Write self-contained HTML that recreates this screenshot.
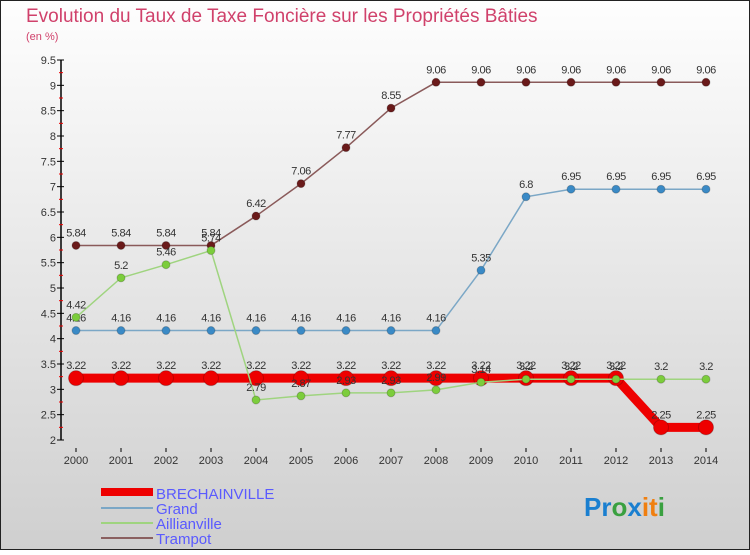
<!DOCTYPE html>
<html><head><meta charset="utf-8"><style>
body{margin:0;width:750px;height:550px;overflow:hidden;font-family:"Liberation Sans",sans-serif}
</style></head><body>
<svg id="c" width="750" height="550" xmlns="http://www.w3.org/2000/svg">
<defs><linearGradient id="bg" x1="0" y1="0" x2="0" y2="1"><stop offset="0" stop-color="#fefefe"/><stop offset="1" stop-color="#cfcfcf"/></linearGradient></defs>
<rect x="0.5" y="0.5" width="749" height="549" fill="url(#bg)" stroke="#222"/>
<text x="26" y="22" font-size="19" fill="#d0416b">Evolution du Taux de Taxe Foncière sur les Propriétés Bâties</text>
<text x="26" y="40" font-size="11" fill="#d0416b">(en %)</text>
<g id="axes"></g><g id="series"></g>
<g font-size="15" fill="#5a5aff">
<rect x="101" y="488" width="52" height="8" fill="#e00"/>
<text x="156" y="499">BRECHAINVILLE</text>
<line x1="101" y1="508" x2="153" y2="508" stroke="#7ba7c6" stroke-width="2"/>
<text x="156" y="514">Grand</text>
<line x1="101" y1="523" x2="153" y2="523" stroke="#9fd47f" stroke-width="2"/>
<text x="156" y="529">Aillianville</text>
<line x1="101" y1="538" x2="153" y2="538" stroke="#8a6060" stroke-width="2"/>
<text x="156" y="544">Trampot</text>
</g>
<text x="584" y="516" font-size="26" font-weight="bold"><tspan fill="#1a7fd0">Pr</tspan><tspan fill="#3aa040">o</tspan><tspan fill="#1a7fd0">x</tspan><tspan fill="#f07f10">it</tspan><tspan fill="#3aa040">i</tspan></text>
</svg>
<script>
const years=[2000,2001,2002,2003,2004,2005,2006,2007,2008,2009,2010,2011,2012,2013,2014];
const yTicks=[2,2.5,3,3.5,4,4.5,5,5.5,6,6.5,7,7.5,8,8.5,9,9.5];
const brechainville=[3.22,3.22,3.22,3.22,3.22,3.22,3.22,3.22,3.22,3.22,3.22,3.22,3.22,2.25,2.25];
const grand=[4.16,4.16,4.16,4.16,4.16,4.16,4.16,4.16,4.16,5.35,6.8,6.95,6.95,6.95,6.95];
const aillianville=[4.42,5.2,5.46,5.74,2.79,2.87,2.93,2.93,2.99,3.14,3.2,3.2,3.2,3.2,3.2];
const trampot=[5.84,5.84,5.84,5.84,6.42,7.06,7.77,8.55,9.06,9.06,9.06,9.06,9.06,9.06,9.06];
const NS="http://www.w3.org/2000/svg";
const xS=i=>76+i*45, yS=v=>440-(v-2)*(380/7.5);
function mk(p,t,a){const e=document.createElementNS(NS,t);for(const k in a)e.setAttribute(k,a[k]);p.appendChild(e);return e;}
const ax=document.getElementById('axes'), sg=document.getElementById('series');
let l=mk(ax,'line',{x1:61,y1:60,x2:61,y2:440,stroke:'#000','stroke-width':1.5});


yTicks.forEach(v=>{const y=yS(v);
 mk(ax,'line',{x1:57,y1:y,x2:64,y2:y,stroke:'#000'});
 if(v<9.5) mk(ax,'line',{x1:59,y1:yS(v+0.25),x2:63,y2:yS(v+0.25),stroke:'#e00'});
 const t=mk(ax,'text',{x:56,y:y+4,'text-anchor':'end','font-size':11,fill:'#333'});t.textContent=v;
 
 
});
years.forEach((yr,i)=>{const x=xS(i);
 mk(ax,'line',{x1:x,y1:448,x2:x,y2:452,stroke:'#000'});
 const t=mk(ax,'text',{x:x,y:464,'text-anchor':'middle','font-size':11,fill:'#333'});t.textContent=yr;
 
 
});
function series(name,vals,color,fill,w,r){
 const g=mk(sg,'g',{});
 
 
 mk(g,'polyline',{points:vals.map((v,i)=>xS(i)+','+yS(v)).join(' '),fill:'none',stroke:color,'stroke-width':w});
 vals.forEach((v,i)=>{
  const c=mk(g,'circle',{cx:xS(i),cy:yS(v),r:r,fill:fill,stroke:'rgba(0,0,0,0.2)'});
  
  
  const t=mk(g,'text',{x:xS(i),y:yS(v)-9,'text-anchor':'middle','font-size':11,fill:'#333','letter-spacing':'-0.5'});t.textContent=v;
  
  
 });
}
series('trampot',trampot,'#8a5a5a','#6a1a1a',1.5,4);
series('grand',grand,'#7ba7c6','#3a8ac6',1.5,4);
series('brechainville',brechainville,'#e00','#e00',9,7.5);
series('aillianville',aillianville,'#9fd47f','#7ccd3c',1.5,4);
</script>
</body></html>
